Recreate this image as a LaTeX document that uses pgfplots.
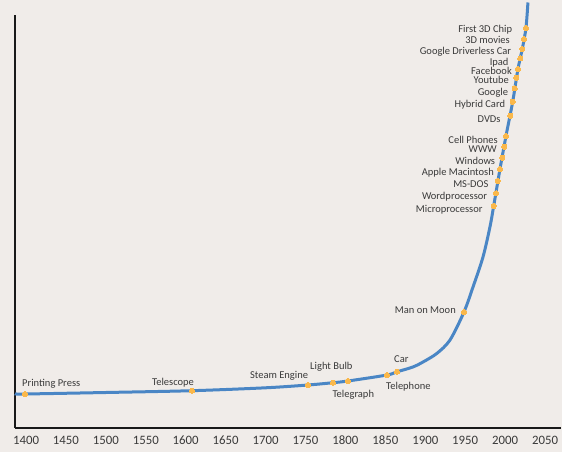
\documentclass[border=0pt]{standalone}
\usepackage{pgfplots}
\pgfplotsset{compat=1.18}
\usepackage{fontspec}
\setmainfont{Carlito}
\definecolor{bg}{HTML}{F0ECE9}
\definecolor{curve}{HTML}{4A86C5}
\definecolor{dot}{HTML}{FAB84B}
\definecolor{txt}{HTML}{3A3A3A}
\tikzset{lbl/.style={font=\fontsize{10.5}{12}\selectfont, text=txt, inner sep=0pt}}
\begin{document}
\begin{tikzpicture}
\fill[bg] (-15pt,-24pt) rectangle (547pt,428pt);
\useasboundingbox (-15pt,-24pt) rectangle (547pt,428pt);
\begin{axis}[
  scale only axis, width=546pt, height=413pt,
  xmin=1386.2, xmax=2070, ymin=0, ymax=413,
  axis x line=bottom, axis y line=left,
  axis line style={-, line width=1.4pt, color=black!90},
  xtick={1400,1450,...,2050},
  ytick=\empty,
  major tick length=0pt,
  /pgf/number format/assume math mode=true,
  x tick label style={font=\fontsize{12.8}{14}\selectfont, text=txt, yshift=-4.5pt, /pgf/number format/.cd, 1000 sep={}},
  clip=false,
]
\addplot[curve, line width=3pt, smooth, tension=0.5] coordinates {
(1386.2,34.2) (1398.7,34.0) (1500,35.5) (1607.9,37.3) (1700,40.2)
(1753.2,43) (1784.5,45.3) (1803.2,47) (1852.1,53) (1864.6,56.2)
(1884.6,61) (1897.2,66) (1914.7,74.7) (1931,88) (1948.5,116)
(1959.8,141) (1972.3,171) (1981,201) (1985.7,222) (1993.6,259)
(2001.1,292) (2009.5,326.3) (2016.1,359) (2021.5,379) (2026.1,400)
(2028.6,425.5)
};
\addplot[only marks, color=dot, mark=*, mark size=2.6pt, mark options={fill=dot, draw=dot, line width=0pt}] coordinates {
(1398.7,34.0) (1607.9,37.3) (1753.2,43) (1784.5,45.3) (1803.2,47)
(1852.1,53) (1864.6,56.3) (1948.5,116) (1985.7,222) (1988.6,234.7)
(1990.7,247) (1993.6,259) (1996.5,270.3) (1999.0,281.3) (2001.1,292)
(2006.5,312.3) (2009.5,326.3) (2012.0,339.7) (2014.0,350.3) (2016.1,359)
(2019.0,369.7) (2021.5,379) (2023.6,389) (2026.1,400)
};
\node[lbl, anchor=base west] at (axis cs:1395,41.3) {Printing Press};
\node[lbl, anchor=base] at (axis cs:1584.1,42.3) {Telescope};
\node[lbl, anchor=base east] at (axis cs:1753.5,49.7) {Steam Engine};
\node[lbl, anchor=base west] at (axis cs:1755.7,58) {Light Bulb};
\node[lbl, anchor=base west] at (axis cs:1783.6,30.7) {Telegraph};
\node[lbl, anchor=base west] at (axis cs:1850.8,38) {Telephone};
\node[lbl, anchor=base west] at (axis cs:1860.8,65.3) {Car};
\node[lbl, anchor=base east] at (axis cs:1938.5,114) {Man on Moon};
\node[lbl, anchor=base east] at (axis cs:2009.0,395.4) {First 3D Chip};
\node[lbl, anchor=base east] at (axis cs:2006.1,384) {3D movies};
\node[lbl, anchor=base east] at (axis cs:2007.7,373.2) {Google Driverless Car};
\node[lbl, anchor=base east] at (axis cs:2004.5,362.8) {Ipad};
\node[lbl, anchor=base east] at (axis cs:2008.6,353.4) {Facebook};
\node[lbl, anchor=base east] at (axis cs:2004.9,344) {Youtube};
\node[lbl, anchor=base east] at (axis cs:2004.0,332.4) {Google};
\node[lbl, anchor=base east] at (axis cs:2000.2,320.4) {Hybrid Card};
\node[lbl, anchor=base east] at (axis cs:1994.5,305.7) {DVDs};
\node[lbl, anchor=base east] at (axis cs:1991.1,284.7) {Cell Phones};
\node[lbl, anchor=base east] at (axis cs:1989.8,275) {WWW};
\node[lbl, anchor=base east] at (axis cs:1987.7,263.7) {Windows};
\node[lbl, anchor=base east] at (axis cs:1986.1,252.7) {Apple Macintosh};
\node[lbl, anchor=base east] at (axis cs:1979.4,240.4) {MS-DOS};
\node[lbl, anchor=base east] at (axis cs:1977.7,228.4) {Wordprocessor};
\node[lbl, anchor=base east] at (axis cs:1971.9,215) {Microprocessor};
\end{axis}
\end{tikzpicture}
\end{document}
